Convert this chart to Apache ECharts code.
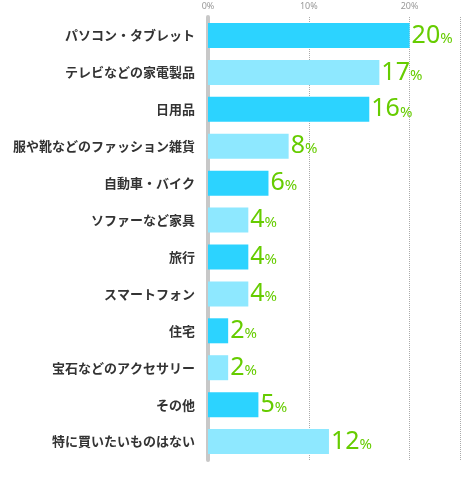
<!DOCTYPE html>
<html><head><meta charset="utf-8">
<script src="https://cdn.jsdelivr.net/npm/echarts@6/dist/echarts.min.js"></script>
<style>html,body{margin:0;background:#fff}#c{width:467px;height:477px}</style>
</head><body><div id="c"></div>
<script>
const categories = ['パソコン・タブレット', 'テレビなどの家電製品', '日用品', '服や靴などのファッション雑貨', '自動車・バイク', 'ソファーなど家具', '旅行', 'スマートフォン', '住宅', '宝石などのアクセサリー', 'その他', '特に買いたいものはない'];
const values = [20, 17, 16, 8, 6, 4, 4, 4, 2, 2, 5, 12];
const ticks = [0, 10, 20];
const colors = ['#2cd3ff', '#8ee8ff'];

const chart = echarts.init(document.getElementById('c'));
chart.setOption({
  animation: false,
  grid: { left: 208, right: 7, top: 17, bottom: 17 },
  xAxis: {
    type: 'value', position: 'top', min: 0, max: 25, interval: 10,
    axisLine: { show: false }, axisTick: { show: false },
    axisLabel: {
      color: '#999', fontSize: 9, fontFamily: 'Noto Sans', margin: 6,
      formatter: v => ticks.includes(v) ? v + '%' : ''
    },
    splitLine: { show: true, lineStyle: { type: 'dotted', color: '#aaa' } }
  },
  yAxis: {
    type: 'category', inverse: true, data: categories,
    axisLine: { show: true, lineStyle: { color: '#c8c8c8', width: 4 } },
    axisTick: { show: false },
    axisLabel: { color: '#333', fontSize: 13, fontWeight: 'bold', fontFamily: 'Noto Sans CJK JP', margin: 13 }
  },
  series: [{
    type: 'bar', barWidth: 25,
    data: values.map((v, i) => ({ value: v, itemStyle: { color: colors[i % 2] } })),
    label: {
      show: true, position: 'right', distance: 2,
      formatter: p => '{n|' + p.value + '}{p|%}',
      rich: {
        n: { color: '#66cc00', fontSize: 25, fontFamily: 'Noto Sans', fontWeight: 'normal' },
        p: { color: '#66cc00', fontSize: 15, fontFamily: 'Noto Sans', padding: [6, 0, 0, 0] }
      }
    }
  }]
});
</script></body></html>
